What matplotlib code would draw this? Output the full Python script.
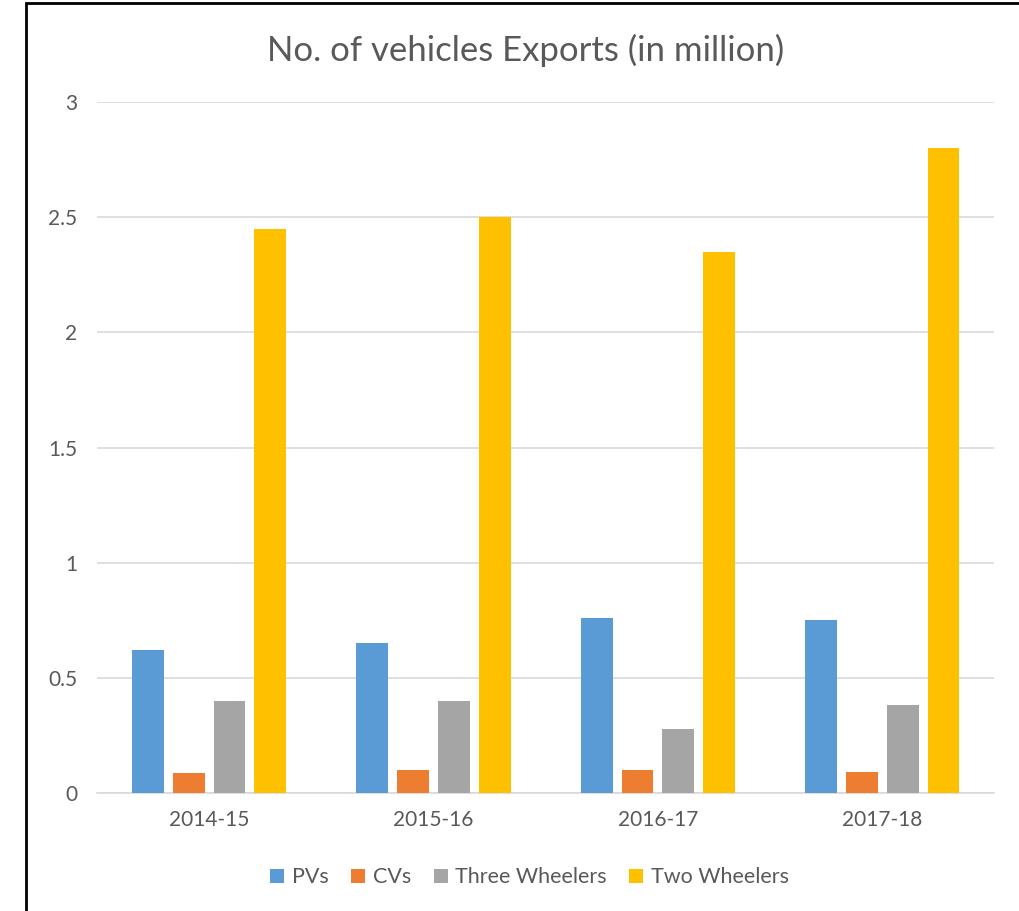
import numpy as np
import matplotlib.pyplot as plt
from matplotlib.patches import Rectangle

plt.rcParams['font.family'] = ['Lato', 'DejaVu Sans']

years = ["2014-15", "2015-16", "2016-17", "2017-18"]
pvs = [0.62, 0.65, 0.76, 0.75]
cvs = [0.087, 0.10, 0.10, 0.09]
three_wheelers = [0.40, 0.40, 0.28, 0.38]
two_wheelers = [2.45, 2.50, 2.35, 2.80]

series = [pvs, cvs, three_wheelers, two_wheelers]
names = ["PVs", "CVs", "Three Wheelers", "Two Wheelers"]
colors = ["#5b9bd5", "#ed7d31", "#a5a5a5", "#ffc000"]
text_col = "#595959"

fig = plt.figure(figsize=(10.2, 9.11), dpi=100)
ax = fig.add_axes([0.095, 0.1295, 0.88, 0.7585])

x = np.arange(len(years))
bar_w = 0.142
step = 0.182
for i, (vals, name, c) in enumerate(zip(series, names, colors)):
    ax.bar(x + (i - 1.5) * step, vals, bar_w, color=c, label=name, zorder=3)

ax.set_xlim(-0.5, len(years) - 0.5)
ax.set_ylim(0, 3)
ax.set_yticks([0, 0.5, 1, 1.5, 2, 2.5, 3])
ax.set_yticklabels(["0", "0.5", "1", "1.5", "2", "2.5", "3"])
ax.set_xticks(x)
ax.set_xticklabels(years)
ax.tick_params(length=0, labelsize=15, labelcolor=text_col)
ax.tick_params(axis='y', pad=14)
ax.tick_params(axis='x', pad=12)
ax.grid(axis='y', color="#d9d9d9", lw=1.2, zorder=0)
for s in ["top", "right", "left"]:
    ax.spines[s].set_visible(False)
ax.spines["bottom"].set_color("#d9d9d9")
ax.spines["bottom"].set_linewidth(1.2)

fig.text(0.515, 0.945, "No. of vehicles Exports (in million)", ha='center', va='center',
         fontsize=25, color=text_col)

ax.legend(loc='center', bbox_to_anchor=(0.482, -0.122), ncol=4, frameon=False,
          fontsize=15.5, handlelength=0.65, handleheight=0.65, handletextpad=0.35,
          columnspacing=1.05, labelcolor=text_col)

fig.patches.append(Rectangle((26 / 1020, -0.1), 1.2, 1.1 - 3 / 911, transform=fig.transFigure,
                             fill=False, edgecolor="black", lw=2))

fig.savefig("out.png", dpi=100)
